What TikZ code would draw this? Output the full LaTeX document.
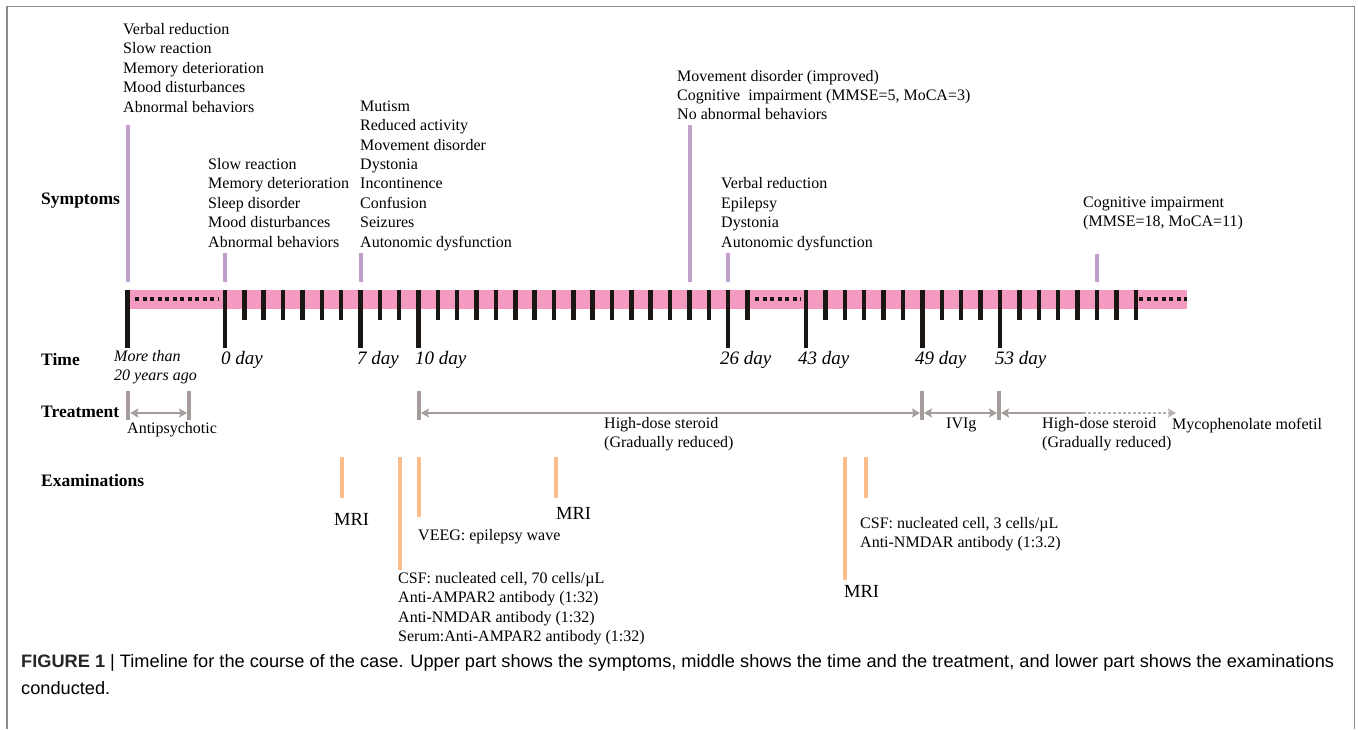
\documentclass[tikz,border=0pt]{standalone}
\usepackage{fontspec}
\setmainfont{Liberation Serif}
\newfontfamily\capfont{Liberation Sans}
\usetikzlibrary{arrows.meta}
\definecolor{pinkband}{RGB}{245,154,192}
\definecolor{symcol}{RGB}{191,160,201}
\definecolor{trtcol}{RGB}{166,156,156}
\definecolor{trtdot}{RGB}{185,176,176}
\definecolor{excol}{RGB}{250,189,140}
\definecolor{tickcol}{RGB}{25,22,20}
\definecolor{framecol}{RGB}{140,140,140}
\definecolor{capcol}{RGB}{80,80,80}
\newsavebox\capboxA
\newsavebox\capboxB
\newlength\capw
\begin{document}
\sbox\capboxA{\capfont\fontsize{18}{22}\selectfont\textcolor{black!85}{\textbf{FIGURE 1}} | Timeline for the course of the case. Upper part shows the symptoms, middle shows the time and the treatment, and lower part shows the examinations}%
\sbox\capboxB{\capfont\fontsize{18}{22}\selectfont conducted.}%
\setlength\capw{\wd\capboxA}%
\pgfmathsetmacro\capf{1313/\capw}%
\begin{tikzpicture}[x=1pt,y=-1pt,
  txt/.style={inner sep=0pt, anchor=base west, font=\fontsize{16}{19.4}\selectfont},
  rowlab/.style={inner sep=0pt, anchor=base west, font=\fontsize{17.5}{20}\selectfont\bfseries},
  daylab/.style={inner sep=0pt, anchor=base west, font=\fontsize{19}{22}\selectfont\itshape},
  smalldaylab/.style={inner sep=0pt, anchor=base west, font=\fontsize{16}{19}\selectfont\itshape},
  mrilab/.style={inner sep=0pt, anchor=base west, font=\fontsize{18.5}{22}\selectfont},
  capt/.style={inner sep=0pt, anchor=base west, text=capcol},
  tickshort/.style={draw=tickcol, line width=4.5pt},
  ticklong/.style={draw=tickcol, line width=4.5pt},
  dotline/.style={draw=tickcol, line width=4pt, dash pattern=on 4.3pt off 3.2pt},
  symbar/.style={draw=symcol, line width=4.5pt},
  exbar/.style={draw=excol, line width=4.5pt},
  trtbar/.style={draw=trtcol, line width=4pt},
  trtarr/.style={draw=trtcol, line width=2.6pt, {Stealth[length=8pt,width=9pt,inset=1.5pt]}-{Stealth[length=8pt,width=9pt,inset=1.5pt]}},
]
\useasboundingbox (0,0) rectangle (1358,729);
\fill[white] (0,0) rectangle (1358,729);
% frame
\draw[framecol, line width=1.3pt] (7,729) -- (7,6.5) -- (1354.5,6.5) -- (1354.5,729);

% row labels
\node[rowlab] (lsym) at (41,204) {Symptoms};
\node[rowlab] (ltime) at (41,365) {Time};
\node[rowlab] (ltrt) at (41,417.5) {Treatment};
\node[rowlab] (lexam) at (41,486.5) {Examinations};

% symptom texts
\foreach \t [count=\i] in {Verbal reduction, Slow reaction, Memory deterioration, Mood disturbances, Abnormal behaviors}
  \node[txt] (sa\i) at (123,{15.1+19.4*\i}) {\t};
\foreach \t [count=\i] in {Slow reaction, Memory deterioration, Sleep disorder, Mood disturbances, Abnormal behaviors}
  \node[txt] (sb\i) at (208,{150.0+19.4*\i}) {\t};
\foreach \t [count=\i] in {Mutism, Reduced activity, Movement disorder, Dystonia, Incontinence, Confusion, Seizures, Autonomic dysfunction}
  \node[txt] (sc\i) at (360,{91.8+19.4*\i}) {\t};
\foreach \t [count=\i] in {Movement disorder (improved), {Cognitive\ \ impairment (MMSE=5, MoCA=3)}, No abnormal behaviors}
  \node[txt] (sd\i) at (677,{61.6+19.4*\i}) {\t};
\foreach \t [count=\i] in {Verbal reduction, Epilepsy, Dystonia, Autonomic dysfunction}
  \node[txt] (se\i) at (721,{169.4+19.4*\i}) {\t};
\foreach \t [count=\i] in {Cognitive impairment, {(MMSE=18, MoCA=11)}}
  \node[txt] (sf\i) at (1083,{188.1+19.4*\i}) {\t};

% symptom bars
\draw[symbar] (128,125) -- (128,282);
\draw[symbar] (225,253) -- (225,282);
\draw[symbar] (361,253) -- (361,282);
\draw[symbar] (690,125) -- (690,282);
\draw[symbar] (728,253) -- (728,282);
\draw[symbar] (1097,254) -- (1097,282);

% timeline band
\fill[pinkband] (128,289.5) rectangle (1187,308.5);
\draw[ticklong] (127.5,289.5) -- (127.5,347.5);
\foreach \d in {0,7,10,26}
  \draw[ticklong] ({225+19.35*\d},289.5) -- ++(0,58);
\foreach \d in {1,...,6,8,9,11,12,...,25,27}
  \draw[tickshort] ({225+19.35*\d},289.5) -- ++(0,30);
\foreach \d in {43,49,53}
  \draw[ticklong] ({806+19.4*(\d-43)},289.5) -- ++(0,58);
\foreach \d in {44,...,48,50,51,52,54,55,...,60}
  \draw[tickshort] ({806+19.4*(\d-43)},289.5) -- ++(0,30);
\draw[dotline] (135,298.5) -- (219,298.5);
\draw[dotline] (755,298.5) -- (801,298.5);
\draw[dotline] (1139,298.5) -- (1187,298.5);

% time labels
\node[smalldaylab] (tm1) at (114,361.5) {More than};
\node[smalldaylab] (tm2) at (114,380.5) {20 years ago};
\node[daylab] (d0) at (221,364.5) {0 day};
\node[daylab] (d7) at (357,364.5) {7 day};
\node[daylab] (d10) at (415,364.5) {10 day};
\node[daylab] (d26) at (720,364.5) {26 day};
\node[daylab] (d43) at (798,364.5) {43 day};
\node[daylab] (d49) at (915,364.5) {49 day};
\node[daylab] (d53) at (995,364.5) {53 day};

% treatment
\draw[trtbar] (128.3,390.5) -- (128.3,420);
\draw[trtbar] (189,390.5) -- (189,420);
\draw[trtbar] (419,390.5) -- (419,420);
\draw[trtbar] (922,390.5) -- (922,420);
\draw[trtbar] (999,390.5) -- (999,420);
\coordinate (a1) at (130.3,413);
\coordinate (a2) at (187,413);
\coordinate (b1) at (421,413);
\coordinate (b2) at (920,413);
\coordinate (c1) at (924,413);
\coordinate (c2) at (997,413);
\coordinate (e1) at (1001,413);
\coordinate (e2) at (1083,413);
\coordinate (e3) at (1176,413);
\draw[trtarr] (a1) -- (a2);
\draw[trtarr] (b1) -- (b2);
\draw[trtarr] (c1) -- (c2);
\draw[draw=trtcol, line width=2.6pt, {Stealth[length=8pt,width=9pt,inset=1.5pt]}-] (e1) -- (e2);
\draw[draw=trtdot, line width=2.6pt, dash pattern=on 3pt off 2pt, -{Stealth[length=8pt,width=9pt,inset=1.5pt]}] (e2) -- (e3);
\node[txt] (tr1) at (127,433.5) {Antipsychotic};
\node[txt] (tr2) at (604,428.5) {High-dose steroid};
\node[txt] (tr3) at (604,447.5) {(Gradually reduced)};
\node[txt] (tr4) at (946,428.5) {IVIg};
\node[txt] (tr5) at (1042,428.5) {High-dose steroid};
\node[txt] (tr6) at (1042,447.5) {(Gradually reduced)};
\node[txt] (tr7) at (1172,429) {Mycophenolate mofetil};

% examinations
\draw[exbar] (342,457) -- (342,498);
\draw[exbar] (400,457) -- (400,570);
\draw[exbar] (419,457) -- (419,517);
\draw[exbar] (556,457) -- (556,498);
\draw[exbar] (845,457) -- (845,580);
\draw[exbar] (866,457) -- (866,498);
\node[mrilab] (m1) at (334,525.5) {MRI};
\node[mrilab] (m2) at (556,519.5) {MRI};
\node[mrilab] (m3) at (844,597.5) {MRI};
\node[txt] (veeg) at (418,540.5) {VEEG: epilepsy wave};
\foreach \t [count=\i] in {{CSF: nucleated cell, 70 cells/µL}, Anti-AMPAR2 antibody (1:32), Anti-NMDAR antibody (1:32), Serum:Anti-AMPAR2 antibody (1:32)}
  \node[txt] (cs\i) at (398,{564.1+19.4*\i}) {\t};
\foreach \t [count=\i] in {{CSF: nucleated cell, 3 cells/µL}, Anti-NMDAR antibody (1:3.2)}
  \node[txt] (ct\i) at (860,{509.1+19.4*\i}) {\t};

% caption
\node[capt] (cap1) at (21,667.5) {\scalebox{\capf}[1]{\usebox\capboxA}};
\node[capt] (cap2) at (21,694.5) {\scalebox{\capf}[1]{\usebox\capboxB}};
\end{tikzpicture}
\end{document}
